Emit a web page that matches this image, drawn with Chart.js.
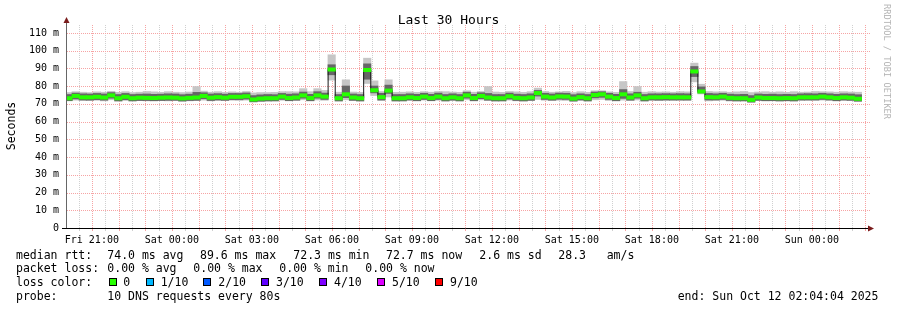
<!DOCTYPE html>
<html>
<head>
<meta charset="utf-8">
<script src="https://cdn.jsdelivr.net/npm/chart.js@4.4.1/dist/chart.umd.min.js"></script>
<style>
  html, body { margin: 0; padding: 0; background: #fff; }
  #wrap { position: relative; width: 897px; height: 310px; overflow: hidden; font-family: "DejaVu Sans Mono", monospace; color: #000; }
  #wrap canvas { position: absolute; left: 0; top: 0; }
  .t { position: absolute; white-space: pre; font-size: 11.5px; line-height: normal; }
  .sq { position: absolute; width: 8px; height: 8px; box-sizing: border-box; border: 1px solid #000; }
</style>
</head>
<body>
<div id="wrap">
  <canvas id="rttChart" width="897" height="310"></canvas>
  <div class="t" style="left:0;width:897px;text-align:center;top:12px;font-size:13px;">Last 30 Hours</div>
  <div class="t" style="left:-14px;top:119px;width:50px;text-align:center;transform:rotate(-90deg);">Seconds</div>
  <div class="t" style="left:832px;top:54px;width:110px;text-align:center;font-size:8.7px;color:#b4b4b4;transform:rotate(90deg);">RRDTOOL / TOBI OETIKER</div>
  <div id="legend"></div>
</div>
<script>
// 30 hours ending Sun Oct 12 02:04:04 2025, one step = 960 s
// median rtt per step (ms)
var median = [
  73.2,74.5,73.7,73.7,74.0,73.6,74.8,73.2,74.0,73.2,73.5,73.4,73.3,73.5,73.6,73.5,73.1,73.4,73.6,74.5,73.5,73.8,73.5,74.0,74.0,74.3,72.5,73.0,
  73.2,73.2,74.1,73.3,73.6,74.8,73.3,74.8,74.1,89.4,73.2,75.4,73.6,73.2,89.1,77.7,73.8,77.5,73.2,73.2,73.7,73.3,74.1,73.3,74.1,73.2,73.7,73.2,74.8,
  73.3,74.5,73.6,73.2,73.2,74.3,73.4,73.2,73.6,76.1,74.1,73.6,74.2,74.1,73.0,73.8,73.2,75.0,75.4,74.1,73.3,75.4,73.6,74.8,73.2,73.7,73.7,73.8,
  73.7,73.7,73.7,88.3,77.0,73.8,73.7,74.1,73.4,73.2,73.2,72.3,73.6,73.3,73.3,73.2,73.3,73.2,73.7,73.7,73.7,74.1,73.7,73.3,73.7,73.5,72.9
];
// slowest ping per step
var smokeMax = [
  76.3,76.8,76.5,76.3,76.7,76.5,77.0,76.4,76.8,76.3,76.5,76.9,76.7,76.4,76.8,76.5,76.3,76.6,79.7,77.1,76.5,76.8,76.4,76.7,76.5,76.9,76.1,76.3,
  76.3,76.4,76.8,76.8,76.7,78.5,76.8,78.5,77.5,97.6,76.5,83.5,76.6,76.4,95.7,82.9,76.9,83.5,76.4,76.5,76.7,76.4,76.8,76.5,76.9,76.8,76.6,76.4,77.3,
  76.5,76.9,79.7,76.6,76.4,76.9,76.7,76.4,76.8,78.8,76.9,76.5,76.7,77.0,76.3,76.8,76.4,77.3,77.3,76.7,76.4,82.5,76.9,79.7,76.5,76.8,76.6,76.7,
  76.5,76.8,76.7,92.9,81.0,76.9,76.7,76.8,76.5,76.7,76.9,76.3,76.6,76.8,76.5,76.7,76.4,76.8,76.5,76.6,76.9,76.8,76.7,76.5,76.8,76.6,76.5
];
// upper part of the dense smoke
var smokeHi = [
  75.2,76.0,75.6,75.5,75.8,75.5,76.3,75.2,75.8,75.2,75.4,75.5,75.3,75.4,75.6,75.5,75.1,75.4,76.4,76.2,75.5,75.7,75.4,75.8,75.8,76.1,74.6,75.0,
  75.2,75.1,75.8,75.4,75.6,76.6,75.3,76.8,76.0,92.0,75.2,80.0,75.5,75.2,92.5,80.0,75.9,80.5,75.2,75.2,75.6,75.3,75.9,75.3,76.0,75.2,75.6,75.2,76.5,
  75.3,76.2,75.8,75.2,75.2,76.0,75.4,75.2,75.6,77.5,75.9,75.5,76.0,75.9,75.1,75.6,75.2,76.6,76.8,75.9,75.3,78.0,75.6,76.5,75.2,75.6,75.6,75.7,
  75.6,75.7,75.6,91.0,79.5,75.8,75.6,75.9,75.4,75.2,75.3,74.6,75.5,75.3,75.4,75.2,75.3,75.2,75.6,75.7,75.6,75.9,75.6,75.3,75.6,75.5,75.1
];
// lower part of the dense smoke
var smokeLo = [
  71.9,72.9,72.3,72.2,72.5,72.2,73.3,71.8,72.5,71.8,72.0,72.0,71.9,72.0,72.1,72.1,71.7,72.0,72.1,73.0,72.0,72.3,72.1,72.5,72.5,72.8,71.3,71.6,
  71.8,71.8,72.6,71.9,72.2,73.3,71.9,73.3,72.6,86.5,71.8,73.6,72.1,71.8,84.0,76.3,72.3,76.0,71.8,71.8,72.3,71.9,72.6,71.9,72.6,71.8,72.2,71.8,73.3,
  71.9,73.0,72.2,71.8,71.8,72.8,72.0,71.8,72.1,74.5,72.6,72.2,72.7,72.6,71.7,72.3,71.8,73.5,73.8,72.6,71.9,73.2,72.2,73.3,71.8,72.3,72.2,72.3,
  72.3,72.3,72.3,85.5,76.3,72.3,72.3,72.6,72.0,71.8,71.8,71.1,72.1,71.9,71.9,71.8,71.9,71.8,72.3,72.3,72.3,72.6,72.3,71.9,72.3,72.1,71.6
];
// fastest ping per step
var smokeMin = [
  71.8,72.2,71.9,72.0,72.1,71.8,72.4,71.6,72.0,71.7,71.9,71.8,71.7,71.9,71.8,72.0,71.6,71.8,71.9,72.2,71.8,72.0,71.9,72.1,72.0,72.2,71.1,71.5,
  71.6,71.7,72.1,71.8,71.9,72.4,71.7,72.3,72.1,83.5,71.6,72.4,71.9,71.6,81.6,74.8,71.9,74.0,71.6,71.7,72.0,71.7,72.2,71.8,72.1,71.6,72.0,71.7,72.4,
  71.7,72.3,71.9,71.6,71.7,72.2,71.8,71.6,71.9,72.6,72.1,71.9,72.1,72.0,71.5,72.0,71.6,72.4,72.6,72.0,71.7,72.2,71.9,72.3,71.6,72.0,71.9,72.0,
  71.9,72.0,71.9,82.5,75.7,71.8,72.0,72.1,71.7,71.6,71.7,71.0,71.9,71.7,71.8,71.6,71.7,71.6,71.9,72.0,72.0,72.2,72.0,71.7,71.9,71.9,71.6
];
var timeLabels = ["Fri 21:00", "Sat 00:00", "Sat 03:00", "Sat 06:00", "Sat 09:00", "Sat 12:00", "Sat 15:00", "Sat 18:00", "Sat 21:00", "Sun 00:00"];
var yTicks = [0, 10, 20, 30, 40, 50, 60, 70, 80, 90, 100, 110];
var yLabels = ["0", "10 m", "20 m", "30 m", "40 m", "50 m", "60 m", "70 m", "80 m", "90 m", "100 m", "110 m"];
var lossColors = ["#26ff00", "#00b8ff", "#0059ff", "#5e00ff", "#7e00ff", "#dd00ff", "#ff0000"];
var lossNames = ["0", "1/10", "2/10", "3/10", "4/10", "5/10", "9/10"];

// x axis is hours since Fri 20:04:04
var STEP = 960 / 3600;
var FIRST = -0.075;          // start of first step
var HALF_HOUR0 = 1556 / 3600; // Fri 20:30:00
var LINE_HALF = 0.85;         // half thickness of the median line, in ms

var MGRID = "#f6a4a4";
var GRID = "#d0d0d0";

function bars(lo, hi) {
    return lo.map(function (v, i) { return {x: FIRST + (i + 0.5) * STEP, y: [v, hi[i]]}; });
}
var medianBars = median.map(function (v, i) { return {x: FIRST + (i + 0.5) * STEP, y: [v - LINE_HALF, v + LINE_HALF]}; });
var medianLine = median.map(function (v, i) { return {x: FIRST + i * STEP, y: v}; });
medianLine.push({x: FIRST + median.length * STEP, y: median[median.length - 1]});

var barOpts = {type: 'bar', grouped: false, barPercentage: 1, categoryPercentage: 1, borderWidth: 0, inflateAmount: 0.5};

// rrdtool style dotted grid (1 on, 1 off) at the scale ticks
var dottedGrid = {
    id: 'dottedGrid',
    beforeDatasetsDraw: function (chart) {
        var c = chart.ctx, a = chart.chartArea, xs = chart.scales.x, ys = chart.scales.y;
        var top = Math.round(a.top), bottom = Math.round(a.bottom), left = Math.round(a.left), right = Math.round(a.right);
        c.save();
        xs.ticks.forEach(function (t, i) {
            var px = Math.round(xs.getPixelForValue(t.value));
            c.fillStyle = i % 2 === 1 ? MGRID : GRID;
            for (var y = top; y < bottom; y += 2) c.fillRect(px, y, 1, 1);
            c.fillRect(px, bottom + 1, 1, 2);
        });
        ys.ticks.forEach(function (t) {
            if (t.value === 0) return;
            var py = Math.round(ys.getPixelForValue(t.value));
            c.fillStyle = t.value % 10 === 0 ? MGRID : GRID;
            for (var x = left; x < right + 3; x += 2) c.fillRect(x, py, 1, 1);
        });
        c.restore();
    }
};

// axis lines and arrows like rrdtool
var axisArrows = {
    id: 'axisArrows',
    afterDraw: function (chart) {
        var c = chart.ctx, a = chart.chartArea;
        var x0 = Math.round(a.left) - 0.5, y0 = Math.round(a.bottom) + 0.5;
        c.save();
        c.lineWidth = 1;
        c.strokeStyle = '#666';
        c.beginPath(); c.moveTo(x0, y0); c.lineTo(x0, a.top - 3); c.stroke();
        c.strokeStyle = '#000';
        c.beginPath(); c.moveTo(a.left - 5, y0); c.lineTo(a.right + 2, y0); c.stroke();
        c.fillStyle = '#7a1c1c';
        c.beginPath(); c.moveTo(x0, a.top - 8); c.lineTo(x0 - 3, a.top - 2); c.lineTo(x0 + 3, a.top - 2); c.closePath(); c.fill();
        c.beginPath(); c.moveTo(a.right + 7, y0); c.lineTo(a.right + 1, y0 - 3); c.lineTo(a.right + 1, y0 + 3); c.closePath(); c.fill();
        c.restore();
    }
};

var ctx = document.getElementById("rttChart").getContext('2d');
var rttChart = new Chart(ctx, {
    type: 'bar',
    data: {
        datasets: [
            Object.assign({data: bars(smokeMin, smokeMax), backgroundColor: '#c6c6c6', order: 4}, barOpts),
            Object.assign({data: bars(smokeLo, smokeHi), backgroundColor: '#666666', order: 3}, barOpts),
            {type: 'line', data: medianLine, stepped: 'before', borderColor: '#1a1a1a', borderWidth: 1, pointRadius: 0, fill: false, order: 2},
            Object.assign({data: medianBars, backgroundColor: lossColors[0], order: 1}, barOpts)
        ]
    },
    options: {
        responsive: false,
        animation: false,
        events: [],
        layout: {padding: {left: 0, top: 25, right: 30, bottom: 0}},
        plugins: {legend: {display: false}, tooltip: {enabled: false}},
        scales: {
            x: {
                type: 'linear',
                min: 0,
                max: 30,
                offset: false,
                afterFit: function (s) { s.height = 82; },
                afterBuildTicks: function (s) {
                    var t = [];
                    for (var h = HALF_HOUR0; h <= 30; h += 0.5) t.push({value: h});
                    s.ticks = t;
                },
                grid: {display: false, drawTicks: false, offset: false},
                border: {display: false},
                ticks: {
                    autoSkip: false,
                    maxRotation: 0,
                    padding: 6,
                    color: '#000',
                    font: {family: 'DejaVu Sans Mono', size: 10},
                    callback: function (v, i) {
                        if (i % 2 === 1 && ((i - 1) / 2) % 3 === 0) return timeLabels[(i - 1) / 6];
                        return '';
                    }
                }
            },
            y: {
                min: 0,
                max: 114.5,
                afterFit: function (s) { s.width = 67; },
                afterBuildTicks: function (s) {
                    var t = [];
                    for (var v = 0; v <= 110; v += 5) t.push({value: v});
                    s.ticks = t;
                },
                grid: {display: false, drawTicks: false},
                border: {display: false},
                ticks: {
                    padding: 8,
                    color: '#000',
                    font: {family: 'DejaVu Sans Mono', size: 10},
                    callback: function (v) {
                        var k = yTicks.indexOf(v);
                        return k >= 0 ? yLabels[k] : '';
                    }
                }
            }
        }
    },
    plugins: [dottedGrid, axisArrows]
});

// text legend below the graph
var legend = document.getElementById("legend");
function put(x, y, text) {
    var d = document.createElement("div");
    d.className = "t";
    d.style.left = x + "px";
    d.style.top = y + "px";
    d.textContent = text;
    legend.appendChild(d);
}
put(16, 247.6, "median rtt:");
put(107.3, 247.6, "74.0 ms avg");
put(200, 247.6, "89.6 ms max");
put(293.3, 247.6, "72.3 ms min");
put(386, 247.6, "72.7 ms now");
put(479.3, 247.6, "2.6 ms sd");
put(558.3, 247.6, "28.3");
put(606.7, 247.6, "am/s");
put(16, 261.3, "packet loss:");
put(107.3, 261.3, "0.00 % avg");
put(193.3, 261.3, "0.00 % max");
put(279.3, 261.3, "0.00 % min");
put(365.3, 261.3, "0.00 % now");
put(16, 275.3, "loss color:");
var sqX = [109, 145.7, 203.3, 261.3, 319.3, 377.3, 435.3];
var nameX = [123.3, 160.7, 218.3, 276, 334, 392, 450];
lossNames.forEach(function (n, i) {
    var s = document.createElement("div");
    s.className = "sq";
    s.style.left = sqX[i] + "px";
    s.style.top = "278px";
    s.style.background = lossColors[i];
    legend.appendChild(s);
    put(nameX[i], 275.3, n);
});
put(16, 289.3, "probe:");
put(107.3, 289.3, "10 DNS requests every 80s");
put(677.7, 289.3, "end: Sun Oct 12 02:04:04 2025");
</script>
</body>
</html>
